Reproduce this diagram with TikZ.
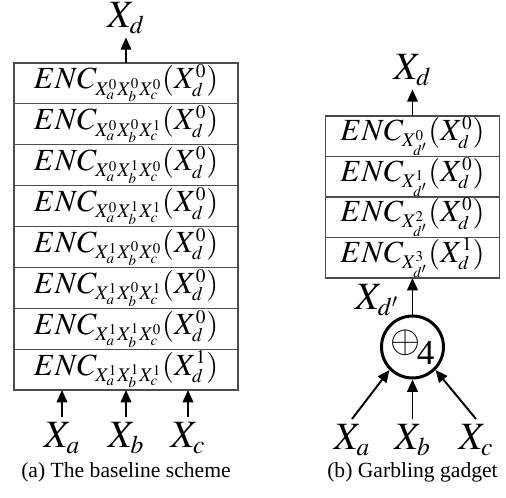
\documentclass[tikz,border=0pt]{standalone}
\usepackage{mathptmx}
\usepackage[no-math]{fontspec}
\setmainfont{Liberation Serif}
\usetikzlibrary{positioning,arrows.meta}
\DeclareMathSizes{17.5}{17.5}{11}{8.5}
\DeclareMathSizes{22}{22}{14.5}{11}
\tikzset{ % common looks of both gadgets
	encrow/.style={draw=black!70, line width=0.6pt, outer sep=0pt, inner sep=0pt,
		font=\fontsize{17.5}{20}\selectfont},
	leftrow/.style={encrow, minimum width=4.48cm, minimum height=0.8175cm},
	rightrow/.style={encrow, minimum width=3.48cm, minimum height=0.81cm},
	wire/.style={-{Triangle[length=7pt,width=6pt]}, line width=1.1pt},
	lbl/.style={font=\fontsize{22}{26}\selectfont, inner sep=0.1cm},
	outlbl/.style={lbl, inner sep=0.06cm, anchor=base},
	subcap/.style={font=\fontsize{12.3}{14}\selectfont},
	gate/.style={circle, draw, line width=1.7pt, minimum size=1.24cm, inner sep=0pt}
}

\begin{document}
\begin{tikzpicture}
		\useasboundingbox (0,0) rectangle (10.12,-9.96);
		% (a) baseline table
		\node [leftrow, anchor=north] (r1) at (2.52,-1.26) {$ENC_{X_a^0X_b^0X_c^0}(X_d^0)$};
		\node [leftrow, below=0pt of r1] (r2) {$ENC_{X_a^0X_b^0X_c^1}(X_d^0)$};
		\node [leftrow, below=0pt of r2] (r3) {$ENC_{X_a^0X_b^1X_c^0}(X_d^0)$};
		\node [leftrow, below=0pt of r3] (r4) {$ENC_{X_a^0X_b^1X_c^1}(X_d^0)$};
		\node [leftrow, below=0pt of r4] (r5) {$ENC_{X_a^1X_b^0X_c^0}(X_d^0)$};
		\node [leftrow, below=0pt of r5] (r6) {$ENC_{X_a^1X_b^0X_c^1}(X_d^0)$};
		\node [leftrow, below=0pt of r6] (r7) {$ENC_{X_a^1X_b^1X_c^0}(X_d^0)$};
		\node [leftrow, below=0pt of r7] (r8) {$ENC_{X_a^1X_b^1X_c^1}(X_d^1)$};
		% inputs / output
		\node [outlbl] (xdL) at (2.52,-0.56) {$X_d$};
		\node [lbl, anchor=north] (xaL) at (1.24,-8.34) {$X_a$};
		\node [lbl, anchor=north] (xbL) at (2.52,-8.34) {$X_b$};
		\node [lbl, anchor=north] (xcL) at (3.76,-8.34) {$X_c$};
		\draw [wire] (r1.north) -- (xdL.south);
		\draw [wire] (xaL.north) -- (xaL.north |- r8.south);
		\draw [wire] (xbL.north) -- (xbL.north |- r8.south);
		\draw [wire] (xcL.north) -- (xcL.north |- r8.south);
		\node [subcap] (capA) at (2.52,-9.44) {(a) The baseline scheme};
		% (b) garbling gadget
		\node [rightrow, anchor=north] (s1) at (8.25,-2.32) {$ENC_{X_{d'}^0}(X_d^0)$};
		\node [rightrow, below=0pt of s1] (s2) {$ENC_{X_{d'}^1}(X_d^0)$};
		\node [rightrow, below=0pt of s2] (s3) {$ENC_{X_{d'}^2}(X_d^0)$};
		\node [rightrow, below=0pt of s3] (s4) {$ENC_{X_{d'}^3}(X_d^1)$};
		\node [gate] (xor) at (8.25,-6.94) {\fontsize{22}{24}\selectfont$\oplus$\kern-0.1em\raisebox{-0.3em}{\fontsize{20}{22}\selectfont 4}};
		\node [outlbl] (xdR) at (8.25,-1.60) {$X_d$};
		\node [lbl] (xdp) at (7.54,-6.0) {$X_{d'}$};
		\node [lbl, anchor=north] (xaR) at (7.04,-8.38) {$X_a$};
		\node [lbl, anchor=north] (xbR) at (8.25,-8.38) {$X_b$};
		\node [lbl, anchor=north] (xcR) at (9.52,-8.38) {$X_c$};
		\draw [wire] (s1.north) -- (xdR.south);
		\draw [wire] (xor.north) -- (s4.south);
		\draw [wire] (xaR.north) -- (xor.225);
		\draw [wire] (xbR.north) -- (xor.south);
		\draw [wire] (xcR.north) -- (xor.315);
		\node [subcap] (capB) at (8.25,-9.44) {(b) Garbling gadget};
\end{tikzpicture}
\end{document}
